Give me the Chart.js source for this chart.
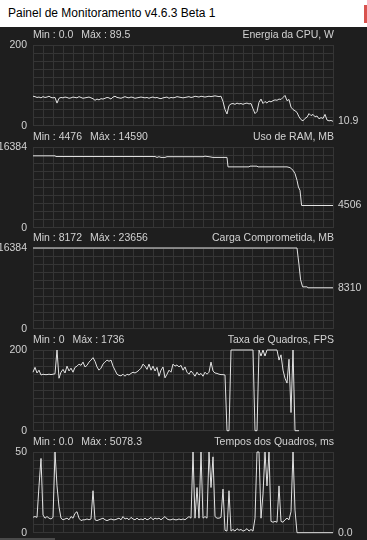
<!DOCTYPE html>
<html><head><meta charset="utf-8">
<script src="https://cdn.jsdelivr.net/npm/chart.js@4.4.1/dist/chart.umd.min.js"></script>
<style>
html,body{margin:0;padding:0;background:#1e1e1e;width:367px;height:540px;overflow:hidden;position:relative;}
#titlebar{position:absolute;left:0;top:0;width:367px;height:27px;background:#ffffff;}
#titlebar span{position:absolute;left:8px;top:6px;font:12px "Liberation Sans",Arial,sans-serif;color:#000;white-space:pre;}
#closebtn{position:absolute;left:364px;top:5px;width:3px;height:18px;background:#d9534f;}
#hscroll{position:absolute;left:0;top:538px;width:55px;height:2px;background:#4a4a4a;}
canvas{position:absolute;left:0;}
</style></head><body>
<div id="titlebar"><span>Painel de Monitoramento v4.6.3 Beta 1</span><div id="closebtn"></div></div>
<div id="hscroll"></div>
<script>
// ---------- DATA ----------
const panelTitles = ["Energia da CPU, W","Uso de RAM, MB","Carga Comprometida, MB","Taxa de Quadros, FPS","Tempos dos Quadros, ms"];
const minLabels = ["Min : 0.0","Min : 4476","Min : 8172","Min : 0","Min : 0.0"];
const maxLabels = ["Máx : 89.5","Máx : 14590","Máx : 23656","Máx : 1736","Máx : 5078.3"];
const axisMax = [200,16384,16384,200,50];
const lastLabels = ["10.9","4506","8310","","0.0"];
const sampleCount = 150; // samples along the time axis

// CPU power (W), one value per sample
const cpuPower = [73,72,70,71,69,72,70,71,73,70,69,70,
56,
68,70,69,71,70,68,69,71,70,69,72,70,68,69,70,71,69,67,
63,66,64,67,66,
68,70,69,66,71,73,70,69,68,70,72,70,69,71,70,68,69,70,71,70,69,70,68,70,71,
69,70,68,67,69,70,71,68,70,69,70,72,71,70,69,70,71,72,70,71,73,72,71,73,72,71,72,
73,72,73,74,73,72,73,
60,40,29,50,
54,55,53,56,54,55,53,55,56,54,55,
42,30,35,58,66,55,60,56,61,59,62,64,63,66,65,70,75,62,65,46,40,37,33,22,15,12,18,21,30,25,28,22,24,17,20,18,28,14,12,13,10.9];

// RAM usage (MB): sample positions and values
const ramX  = [0,11,11.5,61,62,63,64,66,67,70,85,86,88,90,97,97.5,108,108.5,112,112.5,127,128.5,130,131,132,132.7,133.5,134.3,150];
const ramMB = [14590,14590,14450,14450,14270,14420,14270,14270,14420,14420,14420,14520,14420,14270,14270,12350,12350,12500,12500,12350,12350,12200,11670,10990,9630,8260,7580,4506,4506];

// Commit charge (MB)
const commitX  = [0,132,133,133.8,134.8,137,137.5,150];
const commitMB = [23600,23600,12945,9911,8500,8500,8310,8310];

// Frame rate (FPS), one value per sample
const fps = [145,157,143,150,138,140,139,139,140,139,
140,141,230,130,145,152,143,160,148,155,
145,157,160,165,162,170,158,162,170,175,
181,172,158,150,155,165,170,175,172,175,
160,150,140,137,136,140,135,140,138,142,
145,143,146,150,155,165,160,152,165,150,
160,148,157,135,150,158,131,140,150,145,
165,160,163,158,162,150,158,145,140,148,
142,135,145,138,142,135,145,140,145,170,
148,143,142,140,139,139,138,0,0,1200,
1500,1600,1736,1500,1400,1300,1500,1600,1400,1300,
1200,0,0,900,185,700,185,800,900,700,
600,500,400,175,188,150,130,118,177,45,
600,0,0,0];

// Frame time (ms), one value per sample
const frameMs = [9.6,10,9.5,29,46,11,9,10,9,8.5,
9.5,58,29,16,9,8,8.5,9,8,10,
9,12,13,9,7.5,8,8,8.5,8,8.5,
26,8,7.5,8,8.5,9,8,7.5,8,8.5,
8,8,8.5,9,8,10,8.5,9,8,9.5,
8.5,8,9,8,8.5,8,9,8,8.5,9.5,
8,9,8.5,9,8,9,10,8.5,8,8,
8.5,8,8,8.5,8,8.5,8,9,10,9,
58,9,28,9,60,9,10,9,55,28,
47,10,9,9,9.5,27,1.5,1,26,1,
2,1,2.5,1.5,2,1,1.5,2.5,1,2,
1,9,80,60,9,24,70,29,55,7,
6.5,7,6.5,29,7,6.5,8,9,8,13,
60,14,0,0,0,0,0,0,0,0,
0,0,0,0,0,0,0,0,0,0,0];

// ---------- STYLE / LAYOUT ----------
const BG_TEXT = '#d2d2d2';
const LINE_COLOR = '#e2e2e2';
const GRID_COLOR = '#353535';
const FONT = '"Liberation Sans", Arial, sans-serif';
const plotTops = [45,147,248,350,452];
const PAD_TOP = 20, PLOT_H = 81, PAD_BOTTOM = 12, AXIS_W = 33, PAD_RIGHT = 34;

const indexX = arr => arr.map((_, i) => i);
const seriesX = [indexX(cpuPower), ramX, commitX, indexX(fps), indexX(frameMs)];
const seriesY = [cpuPower, ramMB, commitMB, fps, frameMs];

const headerPlugin = {
  id: 'header',
  afterDraw(chart, args, opts) {
    const {ctx, chartArea: a} = chart;
    const y = chart.scales.y;
    ctx.save();
    ctx.font = '10.5px ' + FONT;
    ctx.fillStyle = BG_TEXT;
    ctx.textBaseline = 'middle';
    ctx.textAlign = 'left';
    const hy = a.top - 10;
    ctx.fillText(opts.minText, a.left, hy);
    const w = ctx.measureText(opts.minText).width;
    ctx.fillText(opts.maxText, a.left + w + 8, hy);
    ctx.textAlign = 'right';
    ctx.fillText(opts.title, a.right + 1, hy);
    if (opts.lastText) {
      ctx.textAlign = 'left';
      ctx.fillText(opts.lastText, a.right + 5, y.getPixelForValue(opts.lastValue));
    }
    ctx.restore();
  }
};

for (let p = 0; p < 5; p++) {
  const max = axisMax[p];
  const xs = seriesX[p], ys = seriesY[p];
  const pts = xs.map((x, i) => ({x: x, y: Math.min(ys[i], max)}));
  const cv = document.createElement('canvas');
  cv.width = 367; cv.height = PAD_TOP + PLOT_H + PAD_BOTTOM;
  cv.style.top = (plotTops[p] - PAD_TOP) + 'px';
  document.body.appendChild(cv);
  new Chart(cv, {
    type: 'line',
    data: {datasets: [{data: pts, borderColor: LINE_COLOR, borderWidth: 1, pointRadius: 0, tension: 0, fill: false, clip: 3}]},
    options: {
      responsive: false, animation: false, events: [],
      layout: {padding: {top: PAD_TOP, bottom: PAD_BOTTOM, left: 0, right: PAD_RIGHT}},
      plugins: {
        legend: {display: false}, tooltip: {enabled: false},
        header: {minText: minLabels[p], maxText: maxLabels[p], title: panelTitles[p],
                 lastText: lastLabels[p], lastValue: pts[pts.length - 1].y}
      },
      scales: {
        x: {
          type: 'linear', min: 0, max: sampleCount,
          afterBuildTicks: s => { s.ticks = Array.from({length: 31}, (_, k) => ({value: k * sampleCount / 30})); },
          afterFit: s => { s.height = 0; },
          ticks: {display: false},
          grid: {color: GRID_COLOR, drawTicks: false, lineWidth: 1},
          border: {display: false}
        },
        y: {
          min: 0, max: max,
          afterBuildTicks: s => { s.ticks = Array.from({length: 11}, (_, k) => ({value: k * max / 10})); },
          afterFit: s => { s.width = AXIS_W; },
          ticks: {color: BG_TEXT, font: {family: FONT, size: 10.5}, padding: 6, autoSkip: false,
                  callback: v => (v === 0 || v === max) ? String(v) : ''},
          grid: {color: GRID_COLOR, drawTicks: false, lineWidth: 1},
          border: {display: false}
        }
      }
    },
    plugins: [headerPlugin]
  });
}
</script>
</body></html>
